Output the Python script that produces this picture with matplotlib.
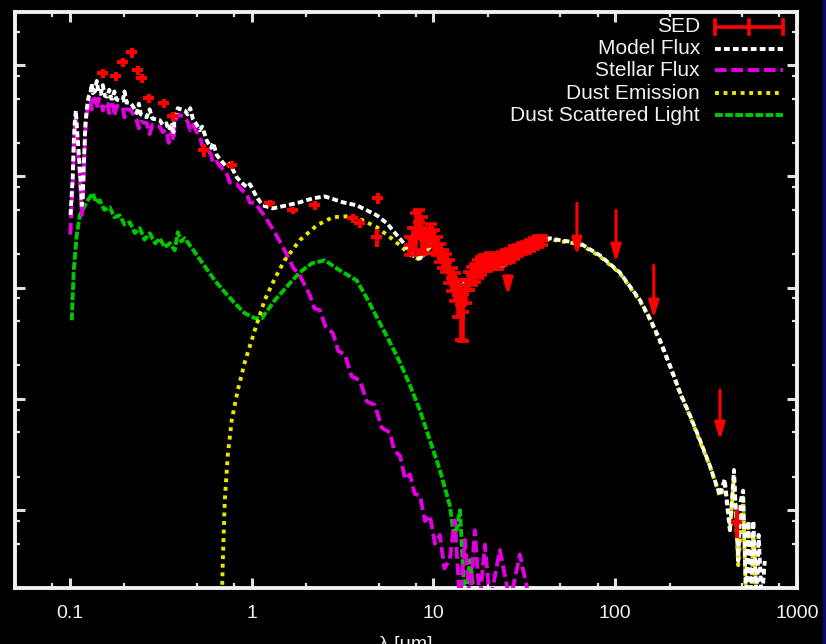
import numpy as np
import matplotlib.pyplot as plt
from matplotlib.ticker import LogLocator, NullFormatter, FixedFormatter, FixedLocator
from matplotlib.patches import Rectangle

plt.rcParams['font.family'] = ['Liberation Sans', 'DejaVu Sans']

# model flux (white)
model_wave = [0.101, 0.1039, 0.1052, 0.1065, 0.108, 0.110, 0.1135, 0.1165, 0.1179, 0.120,
              0.122, 0.124, 0.127, 0.130, 0.132, 0.134, 0.1375, 0.1408, 0.144, 0.148,
              0.152, 0.156, 0.161, 0.165, 0.169, 0.1724, 0.176, 0.181, 0.188, 0.1957,
              0.200, 0.205, 0.214, 0.222, 0.2337, 0.240, 0.246, 0.2652, 0.275, 0.285,
              0.3127, 0.325, 0.340, 0.350, 0.364, 0.372, 0.378, 0.3929, 0.41, 0.4293,
              0.445, 0.460, 0.4752, 0.500, 0.519, 0.535, 0.567, 0.60, 0.615, 0.644,
              0.69, 0.731, 0.76, 0.8295, 0.88, 0.942, 0.98, 1.069, 1.153, 1.309,
              1.563, 1.843, 2.173, 2.53, 3.18, 3.79, 4.31, 4.89, 5.55, 6.3,
              6.8, 7.4, 7.9, 8.43, 9.2, 10.2, 10.9, 11.9, 12.8, 14.0,
              15.3, 16.5, 18.5, 21, 24.1, 27.4, 32.7, 38.5, 43.7, 49.7,
              64, 82.4, 106, 137, 155, 176, 200, 227, 258, 292,
              332, 377, 400, 428, 450, 475, 490, 505, 525, 540,
              560, 575, 600, 615, 640, 665]
model_flux = [0.045, 0.10, 0.20, 0.30, 0.39, 0.25, 0.12, 0.055, 0.065, 0.15,
              0.30, 0.40, 0.52, 0.56, 0.68, 0.56, 0.58, 0.72, 0.57, 0.55,
              0.66, 0.53, 0.52, 0.60, 0.50, 0.50, 0.58, 0.49, 0.48, 0.48,
              0.58, 0.46, 0.46, 0.43, 0.37, 0.45, 0.36, 0.34, 0.40, 0.33,
              0.32, 0.29, 0.30, 0.26, 0.29, 0.25, 0.34, 0.41, 0.40, 0.39,
              0.36, 0.41, 0.33, 0.29, 0.26, 0.28, 0.21, 0.18, 0.20, 0.155,
              0.135, 0.121, 0.13, 0.098, 0.088, 0.080, 0.085, 0.0648, 0.0549, 0.0516,
              0.0549, 0.0585, 0.0635, 0.066, 0.0585, 0.0549, 0.0495, 0.0446, 0.0379, 0.0296,
              0.0256, 0.0215, 0.01875, 0.0183, 0.0217, 0.0267, 0.0230, 0.0176, 0.0124, 0.0105,
              0.0110, 0.0129, 0.0149, 0.0149, 0.0159, 0.0176, 0.0217, 0.0261, 0.0278, 0.0267,
              0.0251, 0.0195, 0.0137, 0.0077, 0.0053, 0.0034, 0.0020, 0.00115, 0.00071, 0.00043,
              0.00025, 0.000136, 0.00019, 6.6e-5, 0.00023, 3.5e-5, 0.00012, 0.00015, 1.5e-5, 8e-5,
              1.5e-5, 8e-5, 1.5e-5, 6e-5, 1.5e-5, 3.5e-5]

# stellar flux (magenta)
stellar_wave = [0.1005, 0.1039, 0.1052, 0.1065, 0.108, 0.110, 0.1135, 0.1165, 0.1179, 0.120,
                0.122, 0.124, 0.127, 0.130, 0.132, 0.134, 0.1375, 0.1408, 0.144, 0.148,
                0.152, 0.156, 0.161, 0.165, 0.169, 0.1724, 0.176, 0.181, 0.188, 0.1957,
                0.200, 0.205, 0.214, 0.222, 0.2337, 0.240, 0.246, 0.2652, 0.275, 0.285,
                0.3127, 0.325, 0.340, 0.350, 0.364, 0.372, 0.378, 0.3929, 0.41, 0.4293,
                0.445, 0.460, 0.4752, 0.500, 0.519, 0.535, 0.567, 0.60, 0.615, 0.644,
                0.69, 0.731, 0.76, 0.8295, 0.88, 0.942, 0.98, 1.042, 1.18, 1.34,
                1.52, 1.70, 1.84, 2.09, 2.22, 2.37, 2.55, 2.80, 3.0, 3.26,
                3.55, 3.94, 4.3, 4.77, 5.2, 5.77, 6.1, 6.55, 7.0, 7.43,
                7.9, 8.43, 9.0, 9.57, 10.2, 10.86, 11.5, 12.3, 13.1, 14.0,
                14.9, 15.9, 16.9, 18.0, 19.2, 20.5, 23.2, 26.4, 29.9, 34.0]
stellar_flux = [0.030, 0.085, 0.17, 0.26, 0.33, 0.21, 0.10, 0.045, 0.055, 0.13,
                0.26, 0.35, 0.46, 0.48, 0.40, 0.49, 0.50, 0.41, 0.50, 0.48,
                0.39, 0.46, 0.45, 0.37, 0.44, 0.44, 0.35, 0.43, 0.42, 0.42,
                0.34, 0.40, 0.40, 0.37, 0.32, 0.27, 0.31, 0.30, 0.24, 0.29,
                0.28, 0.25, 0.26, 0.20, 0.25, 0.21, 0.30, 0.36, 0.35, 0.34,
                0.31, 0.26, 0.29, 0.25, 0.23, 0.19, 0.18, 0.155, 0.13, 0.135,
                0.117, 0.105, 0.088, 0.085, 0.076, 0.069, 0.058, 0.058, 0.044, 0.0315,
                0.0217, 0.0150, 0.0129, 0.0086, 0.0065, 0.0063, 0.0045, 0.0039, 0.0027, 0.0025,
                0.0016, 0.00147, 0.00095, 0.00088, 0.00055, 0.0005, 0.00034, 0.00031, 0.00019, 0.00021,
                0.00014, 0.000136, 8.0e-5, 9.0e-5, 5.0e-5, 6.0e-5, 3.0e-5, 3.6e-5, 8.1e-5, 1.5e-5,
                5.4e-5, 1.5e-5, 6.6e-5, 1.5e-5, 4.9e-5, 1.5e-5, 4.4e-5, 1.5e-5, 4.0e-5, 1.5e-5]

# dust emission (yellow)
dust_wave = [0.686, 0.695, 0.7126, 0.740, 0.778, 0.840, 0.918, 1.042, 1.18, 1.343,
             1.52, 1.843, 2.29, 2.80, 3.47, 4.09, 4.89, 5.77, 6.55, 7.71,
             8.43, 9.2, 10.2, 10.9, 11.9, 12.8, 14.0, 15.3, 16.5, 18.5,
             21, 24.1, 27.4, 32.7, 38.5, 43.7, 49.7, 64, 82.4, 106,
             137, 155, 176, 200, 227, 258, 292, 332, 377, 400,
             428, 450, 475, 505, 525, 540, 560, 575, 600]
dust_flux = [1.5e-5, 3.55e-5, 0.000123, 0.000312, 0.000644, 0.0012, 0.00214, 0.00414, 0.00771, 0.0121,
             0.0176, 0.0267, 0.0364, 0.0430, 0.0439, 0.0403, 0.0349, 0.0284, 0.0240, 0.01875,
             0.0180, 0.0213, 0.0262, 0.0226, 0.0173, 0.0122, 0.0103, 0.0108, 0.0127, 0.0146,
             0.0146, 0.0156, 0.0173, 0.0213, 0.0256, 0.0273, 0.0262, 0.0246, 0.0191, 0.0135,
             0.00756, 0.0052, 0.0033, 0.00197, 0.00113, 0.0007, 0.000418, 0.000248, 0.000133, 0.00017,
             6.5e-5, 0.0002, 3.2e-5, 0.00013, 1.5e-5, 7e-5, 1.5e-5, 6e-5, 1.5e-5]

# dust scattered light (green)
scat_wave = [0.1026, 0.1052, 0.1093, 0.1135, 0.1256, 0.1338, 0.140, 0.1462, 0.155, 0.166,
             0.176, 0.1884, 0.20, 0.214, 0.228, 0.2428, 0.258, 0.2756, 0.295, 0.3127,
             0.333, 0.3549, 0.378, 0.3929, 0.41, 0.4293, 0.4874, 0.553, 0.628,
             0.7126, 0.809, 0.918, 1.042, 1.139, 1.343, 1.624, 1.843, 2.146, 2.53,
             3.06, 3.79, 4.31, 5.08, 5.62, 6.54, 7.43, 8.43, 9.57, 10.86,
             12.3, 13.1, 14.0, 14.9, 15.9, 16.9]
scat_flux = [0.00509, 0.0143, 0.0296, 0.0446, 0.0610, 0.0705, 0.058, 0.0610, 0.050, 0.0527,
             0.043, 0.0446, 0.037, 0.0387, 0.031, 0.0342, 0.027, 0.0308, 0.025, 0.0278,
             0.023, 0.0251, 0.0217, 0.0315, 0.026, 0.0278, 0.0208, 0.01556, 0.0116,
             0.0091, 0.00724, 0.00589, 0.00531, 0.00531, 0.00771, 0.01096, 0.01374, 0.01655, 0.0176,
             0.0143, 0.0116, 0.00803, 0.00479, 0.00351, 0.00214, 0.00133, 0.000791, 0.000426, 0.000229,
             0.000111, 5.37e-5, 1e-4, 1.5e-5, 3.55e-5, 1.5e-5]

# observed SED: photometry
phot_wave = [0.152, 0.179, 0.1957, 0.219, 0.2366, 0.249, 0.272, 0.329, 0.369, 0.546,
             0.778, 1.26, 1.69, 2.23, 3.61, 3.94, 4.95, 4.89, 468]
phot_flux = [0.843, 0.792, 1.06, 1.30, 0.90, 0.760, 0.504, 0.454, 0.347, 0.172,
             0.126, 0.0573, 0.0495, 0.0549, 0.0421, 0.0379, 0.0635, 0.0284, 7.8e-5]
phot_relerr = [0.10, 0.10, 0.10, 0.10, 0.10, 0.10, 0.10, 0.10, 0.10, 0.14,
               0.08, 0.08, 0.08, 0.10, 0.10, 0.10, 0.11, 0.18, 0.28]

# observed SED: IRS spectrum
irs_wave = [7.43, 7.71, 8.01, 8.32, 8.64, 8.98, 9.33, 9.69, 10.06, 10.45,
            10.86, 11.28, 11.72, 12.17, 12.64, 13.13, 13.64, 14.17, 14.53, 15.10,
            15.68, 16.29, 16.92, 17.57, 18.25, 18.96, 19.70, 20.46, 21.52, 22.64,
            23.82, 25.06, 26.36, 27.73, 29.17, 30.68, 32.28, 33.95, 35.72, 37.58, 39.54]
irs_flux = [0.0240, 0.0278, 0.0342, 0.0387, 0.0315, 0.0267, 0.0290, 0.0315, 0.0267, 0.0240,
            0.0208, 0.0184, 0.0169, 0.0143, 0.0121, 0.0105, 0.00855, 0.00695, 0.00601, 0.00948,
            0.0116, 0.0129, 0.01374, 0.01493, 0.0159, 0.0169, 0.0169, 0.0176, 0.0169, 0.0169,
            0.0184, 0.0191, 0.0195, 0.0208, 0.0217, 0.0226, 0.0231, 0.0240, 0.0251, 0.0261, 0.0267]
irs_relerr = [0.18, 0.23, 0.36, 0.28, 0.36, 0.23, 0.18, 0.18, 0.23, 0.18,
              0.18, 0.18, 0.18, 0.23, 0.23, 0.28, 0.36, 0.51, 0.45, 0.23,
              0.18, 0.18, 0.18, 0.18, 0.18, 0.16, 0.16, 0.16, 0.13, 0.13,
              0.13, 0.13, 0.13, 0.13, 0.11, 0.11, 0.11, 0.11, 0.11, 0.11, 0.09]

# upper limits
ul_wave = [25.7, 61.6, 101, 163, 377]
ul_flux = [0.0129, 0.0573, 0.0495, 0.0159, 0.00120]
ul_tip = [0.00855, 0.0195, 0.0169, 0.00531, 0.000426]

fig = plt.figure(figsize=(8.26, 6.44), dpi=100, facecolor='black')
ax = fig.add_axes([15/826, 56/644, 782/826, 576/644])
ax.set_facecolor('black')
fig.patches.append(Rectangle((823/826, 0), 3/826, 1, transform=fig.transFigure,
                             color='#0a0a6a', zorder=0))

lw = 2.8
ax.plot(scat_wave, scat_flux, color='#00c800', lw=lw, dashes=(2, 0.6), zorder=2)
ax.plot(stellar_wave, stellar_flux, color='#e000e0', lw=lw, dashes=(3, 1.2), zorder=3)
ax.plot(dust_wave, dust_flux, color='#e8e800', lw=lw, dashes=(1, 1.2), zorder=4)
ax.plot(model_wave, model_flux, color='white', lw=lw, dashes=(1.5, 0.8), zorder=5)

red = '#ff0000'
pf = np.array(phot_flux)
ax.errorbar(phot_wave, pf, yerr=pf * np.array(phot_relerr), xerr=np.array(phot_wave) * 0.07,
            fmt='none', ecolor=red, elinewidth=3, capsize=0, zorder=6)
irf = np.array(irs_flux)
ax.errorbar(irs_wave, irf, yerr=irf * np.array(irs_relerr), fmt='+', color=red, ms=9, mew=2.6,
            ecolor=red, elinewidth=2.6, capsize=4, capthick=2.6, zorder=6)
for w, top, tip in zip(ul_wave, ul_flux, ul_tip):
    ax.annotate('', xy=(w, tip), xytext=(w, top),
                arrowprops=dict(arrowstyle='-|>,head_width=0.3,head_length=1.0',
                                color=red, lw=2.2, shrinkA=0, shrinkB=0), zorder=7)

ax.set_xscale('log')
ax.set_yscale('log')
ax.set_xlim(0.05, 1000)
ax.set_ylim(2e-5, 3)

ax.xaxis.set_major_locator(FixedLocator([0.1, 1, 10, 100, 1000]))
ax.xaxis.set_major_formatter(FixedFormatter(['0.1', '1', '10', '100', '1000']))
ax.xaxis.set_minor_locator(LogLocator(base=10, subs=(2, 5, 8)))
ax.xaxis.set_minor_formatter(NullFormatter())
ax.yaxis.set_major_locator(LogLocator(base=10, numticks=20))
ax.yaxis.set_minor_locator(LogLocator(base=10, subs=(2, 5, 8), numticks=20))
ax.yaxis.set_major_formatter(NullFormatter())
ax.yaxis.set_minor_formatter(NullFormatter())

ax.tick_params(which='both', direction='in', top=True, right=True, colors='#e0e0e0')
ax.tick_params(which='major', length=7, width=2.2, labelsize=14, pad=12, labelcolor='#f0f0f0')
ax.tick_params(which='minor', length=3.5, width=1.6)
for s in ax.spines.values():
    s.set_color('#f0f0f0')
    s.set_linewidth(2.8)

ax.set_xlabel('λ [μm]', color='#f0f0f0', fontsize=14)
ax.xaxis.set_label_coords(0.5, -0.083)

# legend
labels = ['SED', 'Model Flux', 'Stellar Flux', 'Dust Emission', 'Dust Scattered Light']
ly = [0.974, 0.936, 0.899, 0.859, 0.821]
for lab, y in zip(labels, ly):
    ax.text(0.876, y, lab, transform=ax.transAxes, ha='right', va='center',
            color='#f0f0f0', fontsize=15)
x0, x1 = 0.895, 0.982
ax.plot([x0, x1], [ly[0]] * 2, transform=ax.transAxes, color=red, lw=2.6, clip_on=False)
for xx in (x0, (x0 + x1) / 2, x1):
    ax.plot([xx, xx], [ly[0] - 0.012, ly[0] + 0.012], transform=ax.transAxes, color=red, lw=2.6)
ax.plot([x0, x1], [ly[1]] * 2, transform=ax.transAxes, color='white', lw=lw, dashes=(1.5, 0.8))
ax.plot([x0, x1], [ly[2]] * 2, transform=ax.transAxes, color='#e000e0', lw=lw, dashes=(3, 1.2))
ax.plot([x0, x1], [ly[3]] * 2, transform=ax.transAxes, color='#e8e800', lw=lw, dashes=(1, 1.2))
ax.plot([x0, x1], [ly[4]] * 2, transform=ax.transAxes, color='#00c800', lw=lw, dashes=(2, 0.6))

fig.savefig('out.png', dpi=100, facecolor='black')
